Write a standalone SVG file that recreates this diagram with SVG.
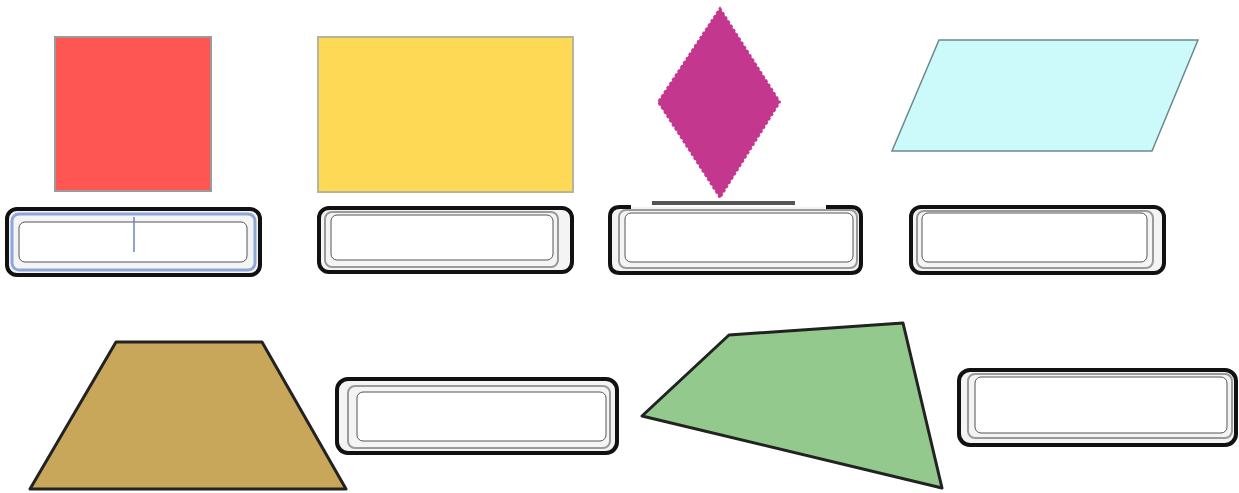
<svg xmlns="http://www.w3.org/2000/svg" width="1239" height="493" viewBox="0 0 1239 493">
<style>
.outer{fill:#f4f4f4;stroke:#111;stroke-width:4}
.mid{fill:none;stroke:#9a9a9a;stroke-width:2}
.inner{fill:#fff;stroke:#555;stroke-width:1}
.bold{stroke:#222;stroke-width:3;stroke-linejoin:round}
</style>
<rect width="1239" height="493" fill="#fff"/>
<g id="square"><rect x="55" y="37" width="156" height="154" fill="#fd5653" stroke="#9a9a9a" stroke-width="2"/></g>
<g id="rectangle"><rect x="318" y="37" width="255" height="155" fill="#fdd955" stroke="#b5b59a" stroke-width="2"/></g>
<g id="rhombus"><polygon points="720,8 780,102 720,198 658,102" fill="#c4378f" stroke="#c4378f" stroke-width="2" stroke-dasharray="3,2"/></g>
<g id="parallelogram"><polygon points="939,40 1198,40 1152,151 892,151" fill="#ccfafa" stroke="#6a8a8a" stroke-width="1.5"/></g>
<g id="trapezoid"><polygon points="116,342 262,342 346,489 30,489" fill="#c8a65a" class="bold"/></g>
<g id="quadrilateral"><polygon points="729,335 903,323 942,488 642,416" fill="#93c98c" class="bold"/></g>
<g id="box1">
<rect x="7" y="209" width="253" height="66" rx="10" class="outer"/>
<rect x="12" y="214" width="243" height="56" rx="7" fill="none" stroke="#8ea6d8" stroke-width="3"/>
<rect x="19" y="222" width="228" height="40" rx="6" class="inner"/>
<line x1="134" y1="217" x2="134" y2="252" stroke="#6f80c8" stroke-width="1.5"/>
</g>
<g id="box2">
<rect x="319" y="208" width="253" height="64" rx="10" class="outer"/>
<rect x="325" y="212" width="233" height="55" rx="7" class="mid"/>
<rect x="331" y="215" width="222" height="45" rx="6" class="inner"/>
</g>
<g id="box3">
<path d="M631,207 H620 Q610,207 610,217 V263 Q610,273 620,273 H851 Q861,273 861,263 V217 Q861,207 851,207 H826" fill="#f4f4f4" stroke="#111" stroke-width="4"/>
<rect x="619" y="210" width="238" height="58" rx="7" class="mid"/>
<rect x="625" y="213" width="228" height="49" rx="6" class="inner"/>
<line x1="652" y1="203" x2="795" y2="203" stroke="#555" stroke-width="4"/>
</g>
<g id="box4">
<rect x="911" y="207" width="253" height="66" rx="10" class="outer"/>
<rect x="917" y="211" width="236" height="57" rx="7" class="mid"/>
<rect x="922" y="213" width="225" height="49" rx="6" class="inner"/>
</g>
<g id="box5">
<rect x="337" y="379" width="280" height="74" rx="11" class="outer"/>
<rect x="348" y="386" width="262" height="62" rx="7" class="mid"/>
<rect x="357" y="392" width="249" height="49" rx="6" class="inner"/>
</g>
<g id="box6">
<rect x="959" y="370" width="277" height="75" rx="11" class="outer"/>
<rect x="968" y="374" width="264" height="64" rx="7" class="mid"/>
<rect x="975" y="377" width="252" height="56" rx="6" class="inner"/>
</g>
<g id="connectors"></g>
</svg>
